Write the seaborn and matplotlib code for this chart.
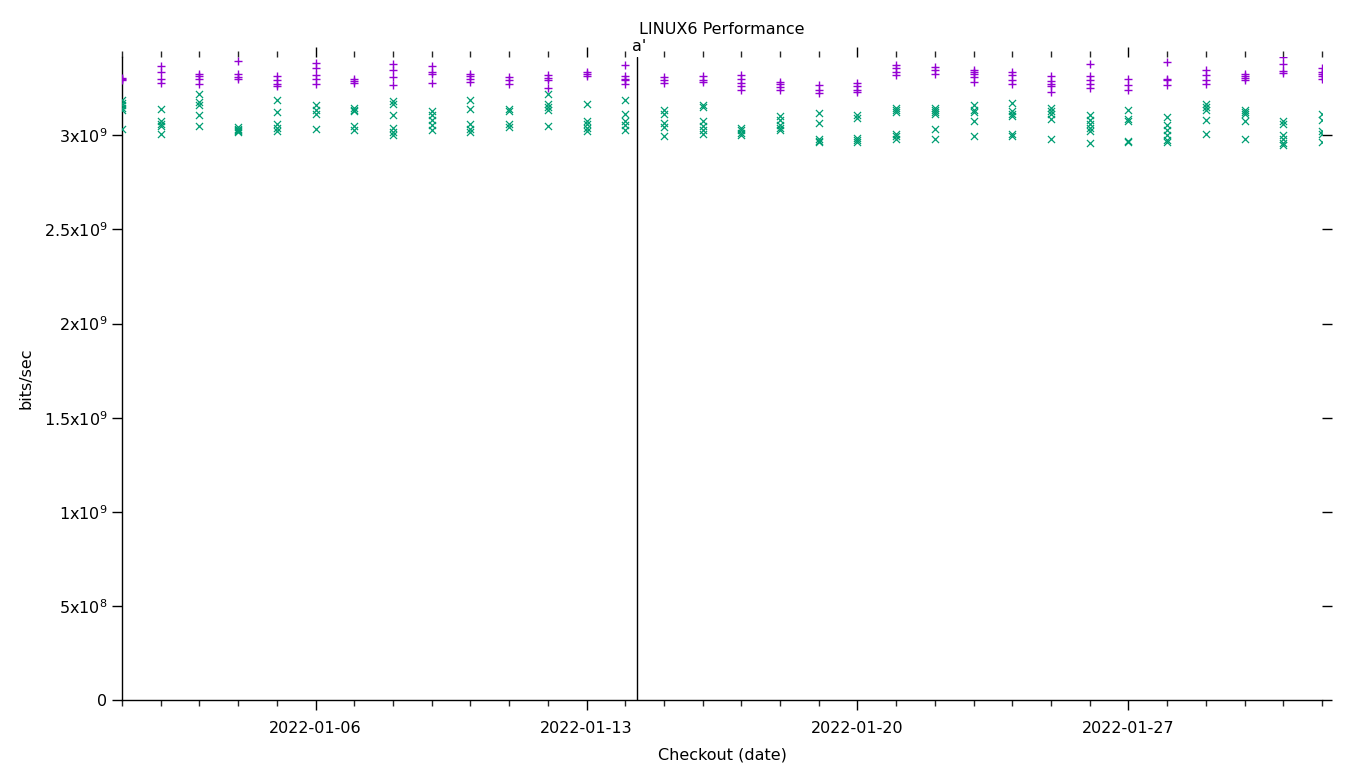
import numpy as np
import pandas as pd
import matplotlib
matplotlib.use("Agg")
import matplotlib.pyplot as plt
import matplotlib.dates as mdates
from matplotlib.ticker import FixedLocator, FuncFormatter
import seaborn as sns

# ---------------- data (values in units of 1e9 bits/sec) ----------------
days = pd.date_range("2022-01-01", "2022-02-01", freq="D")

purple_vals = [
    [3.305, 3.300, 3.295],
    [3.368, 3.334, 3.299, 3.280],
    [3.324, 3.313, 3.299, 3.275],
    [3.393, 3.324, 3.310, 3.300],
    [3.313, 3.296, 3.275, 3.260],
    [3.385, 3.355, 3.319, 3.301, 3.275],
    [3.301, 3.289, 3.278],
    [3.377, 3.345, 3.310, 3.266],
    [3.366, 3.335, 3.327, 3.278],
    [3.327, 3.313, 3.301, 3.283],
    [3.310, 3.292, 3.275],
    [3.319, 3.306, 3.292, 3.253],
    [3.336, 3.327, 3.316],
    [3.375, 3.313, 3.301, 3.292, 3.275],
    [3.310, 3.296, 3.278],
    [3.313, 3.296, 3.283],
    [3.319, 3.301, 3.278, 3.260, 3.243],
    [3.283, 3.271, 3.257, 3.239],
    [3.266, 3.243, 3.225],
    [3.278, 3.260, 3.243, 3.228],
    [3.372, 3.355, 3.336, 3.319],
    [3.363, 3.347, 3.324],
    [3.347, 3.336, 3.324, 3.310, 3.283],
    [3.336, 3.319, 3.296, 3.275],
    [3.313, 3.289, 3.271, 3.260, 3.230],
    [3.377, 3.313, 3.296, 3.275, 3.253],
    [3.301, 3.266, 3.239],
    [3.388, 3.301, 3.296, 3.266],
    [3.345, 3.319, 3.296, 3.275],
    [3.324, 3.313, 3.306, 3.296],
    [3.416, 3.377, 3.342, 3.331],
    [3.355, 3.336, 3.324, 3.313, 3.301],
]

green_vals = [
    [3.186, 3.172, 3.159, 3.147, 3.136, 3.036],
    [3.141, 3.077, 3.058, 3.048, 3.005],
    [3.221, 3.177, 3.159, 3.106, 3.048],
    [3.044, 3.035, 3.030, 3.025, 3.020],
    [3.186, 3.124, 3.058, 3.040, 3.023],
    [3.159, 3.133, 3.115, 3.036],
    [3.147, 3.136, 3.129, 3.048, 3.026],
    [3.182, 3.165, 3.106, 3.040, 3.018, 3.000],
    [3.129, 3.106, 3.080, 3.053, 3.030],
    [3.186, 3.141, 3.058, 3.036, 3.018],
    [3.141, 3.129, 3.058, 3.044],
    [3.221, 3.168, 3.150, 3.133, 3.048],
    [3.165, 3.077, 3.058, 3.040, 3.023],
    [3.186, 3.115, 3.074, 3.053, 3.026],
    [3.133, 3.115, 3.066, 3.044, 2.995],
    [3.159, 3.150, 3.074, 3.048, 3.026, 3.005],
    [3.040, 3.026, 3.012, 3.000],
    [3.101, 3.080, 3.053, 3.040, 3.026],
    [3.119, 3.066, 2.982, 2.970, 2.964],
    [3.106, 3.094, 2.987, 2.973, 2.965],
    [3.147, 3.133, 3.124, 3.009, 2.995, 2.982],
    [3.147, 3.133, 3.124, 3.115, 3.036, 2.982],
    [3.159, 3.136, 3.124, 3.074, 2.995],
    [3.172, 3.129, 3.115, 3.101, 3.009, 2.995],
    [3.147, 3.129, 3.115, 3.088, 2.982],
    [3.106, 3.080, 3.062, 3.040, 3.023, 2.961],
    [3.133, 3.088, 3.077, 2.970, 2.962],
    [3.097, 3.053, 3.026, 3.000, 2.977, 2.964],
    [3.168, 3.150, 3.136, 3.083, 3.005],
    [3.136, 3.124, 3.115, 3.077, 2.982],
    [3.077, 3.058, 3.000, 2.982, 2.959, 2.946],
    [3.111, 3.083, 3.023, 3.009, 2.965],
]

marker_date = pd.Timestamp("2022-01-14 07:00")
marker_label = "a'"
y_ticks = [0, 0.5e9, 1.0e9, 1.5e9, 2.0e9, 2.5e9, 3.0e9]

title = "LINUX6 Performance"
xlabel = "Checkout (date)"
ylabel = "bits/sec"

# ---------------- build long-form table ----------------
rows = []
for d, vals in zip(days, purple_vals):
    for v in vals:
        rows.append({"date": d, "value": v * 1e9, "series": "a"})
for d, vals in zip(days, green_vals):
    for v in vals:
        rows.append({"date": d, "value": v * 1e9, "series": "b"})
df = pd.DataFrame(rows)

# ---------------- plot ----------------
sns.set_theme(style="ticks")
plt.rcParams["font.family"] = ["DejaVu Sans"]
plt.rcParams["mathtext.fontset"] = "dejavusans"
plt.rcParams["text.color"] = "black"
plt.rcParams["axes.labelcolor"] = "black"

fig = plt.figure(figsize=(13.6, 7.68), dpi=100)
ax = fig.add_axes([122 / 1360, 68 / 768, 1200 / 1360, 643 / 768])

purple = "#9400d3"
green = "#009e73"

sns.scatterplot(data=df[df.series == "b"], x="date", y="value", marker="x",
                color=green, s=26, linewidth=0.9, ax=ax, zorder=3)
sns.scatterplot(data=df[df.series == "a"], x="date", y="value", marker="+",
                color=purple, s=40, linewidth=1.0, ax=ax, zorder=4)

ax.set_xlim(days[0], days[-1])
ax.set_ylim(0, max(max(v) for v in purple_vals) * 1e9)

# spines like gnuplot's border 3 with mirrored ticks
for side in ["top", "right"]:
    ax.spines[side].set_visible(False)
for side in ["left", "bottom"]:
    ax.spines[side].set_linewidth(1.0)
    ax.spines[side].set_color("black")

ax.xaxis.set_major_locator(mdates.DayLocator(bymonthday=[6, 13, 20, 27]))
ax.xaxis.set_minor_locator(mdates.DayLocator())
ax.xaxis.set_major_formatter(mdates.DateFormatter("%Y-%m-%d"))

def yfmt(v, pos):
    if v == 0:
        return "0"
    e = int(np.floor(np.log10(v)))
    m = v / 10 ** e
    ms = f"{m:g}"
    return f"{ms}x10$^{{{e}}}$"

ax.yaxis.set_major_locator(FixedLocator(y_ticks))
ax.yaxis.set_major_formatter(FuncFormatter(yfmt))

ax.tick_params(axis="x", which="major", direction="out", length=7, width=1,
               top=True, bottom=True, labelsize=11.5, colors="black", pad=8)
ax.tick_params(axis="x", which="minor", direction="out", length=4, width=1,
               top=True, bottom=True)
ax.tick_params(axis="y", which="major", direction="out", length=7, width=1,
               left=True, right=True, labelsize=11.5, colors="black")

ax.axvline(marker_date, color="black", linewidth=1.0, zorder=5)
ax.annotate(marker_label, xy=(marker_date, 1.0), xycoords=("data", "axes fraction"),
            xytext=(2, 2), textcoords="offset points", ha="center", va="bottom",
            fontsize=11.5, color="black")

ax.set_xlabel(xlabel, fontsize=11.5, labelpad=8.5)
ax.set_ylabel(ylabel, fontsize=11.5, labelpad=7)
fig.text(722 / 1360, 1 - 30 / 768, title, ha="center", va="center",
         fontsize=11.5, color="black")

ax.grid(False)
fig.savefig("out.png", dpi=100)
